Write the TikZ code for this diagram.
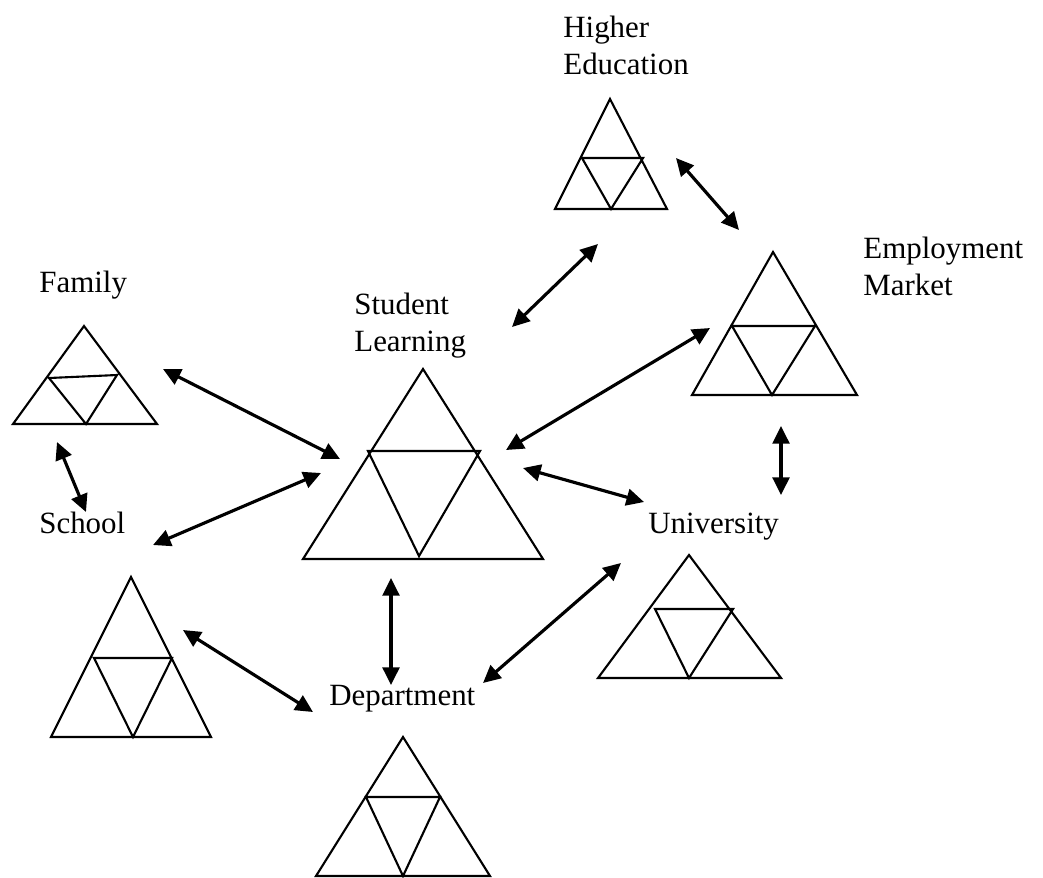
\documentclass[tikz,border=0pt]{standalone}
\usepackage{fontspec}
\setmainfont{Liberation Serif}
\usetikzlibrary{arrows.meta}

\tikzset{
	tri/.style={line width=1.2pt, line join=miter},
	lbl/.style={anchor=base west, inner sep=0pt, align=left, font=\fontsize{17.6}{21}\selectfont},
	link/.style={line width=1.8pt, {Triangle[length=10pt,width=9.5pt]}-{Triangle[length=10pt,width=9.5pt]}}
}

\begin{document}
\begin{tikzpicture}[x=0.02cm,y=-0.02cm]
	\useasboundingbox (0,0) rectangle (1043,877);

	% triangles
	\draw[tri] (610,99) -- (667,209) -- (555,209) -- cycle (582,158) -- (643,158) -- (611,209) -- cycle;
	\draw[tri] (773,252) -- (857,395) -- (692,395) -- cycle (732,326) -- (815,326) -- (772,395) -- cycle;
	\draw[tri] (84,326) -- (157,424) -- (13,424) -- cycle (49,378) -- (117,375) -- (86,424) -- cycle;
	\draw[tri] (423,369) -- (543,559) -- (303,559) -- cycle (368,451) -- (480,451) -- (419,556) -- cycle;
	\draw[tri] (131,577) -- (211,737) -- (51,737) -- cycle (94,658) -- (172,658) -- (133,737) -- cycle;
	\draw[tri] (689,555) -- (781,678) -- (598,678) -- cycle (655,609) -- (733,609) -- (689,678) -- cycle;
	\draw[tri] (403,737) -- (490,876) -- (316,876) -- cycle (366,797) -- (440,797) -- (403,876) -- cycle;

	% labels (two-line ones sit on their last line)
	\node[lbl] (higher) at (563,74) {Higher\\Education};
	\node[lbl] (employ) at (863,295) {Employment\\Market};
	\node[lbl] (family) at (39,292) {Family};
	\node[lbl] (student) at (354,351) {Student\\Learning};
	\node[lbl] (school) at (39,533) {School};
	\node[lbl] (univ) at (648,533) {University};
	\node[lbl] (dept) at (329,705) {Department};

	% arrow ends
	\coordinate (fam-st) at (163,369);  \coordinate (st-fam) at (340,459);
	\coordinate (fam-sc) at (57,442);   \coordinate (sc-fam) at (86,512);
	\coordinate (sc-st) at (153,545);   \coordinate (st-sc) at (321,473);
	\coordinate (st-he) at (512,327);   \coordinate (he-st) at (598,244);
	\coordinate (he-em) at (676,158);   \coordinate (em-he) at (739,230);
	\coordinate (st-em) at (506,450);   \coordinate (em-st) at (710,328);
	\coordinate (st-un) at (523,468);   \coordinate (un-st) at (644,502);
	\coordinate (em-un) at (781,426);   \coordinate (un-em) at (781,495);
	\coordinate (st-de) at (391,578);   \coordinate (de-st) at (391,685);
	\coordinate (sc-de) at (183,630);   \coordinate (de-sc) at (313,712);
	\coordinate (un-de) at (621,563);   \coordinate (de-un) at (483,683);

	% arrows
	\draw[link] (fam-st) -- (st-fam);
	\draw[link] (fam-sc) -- (sc-fam);
	\draw[link] (sc-st) -- (st-sc);
	\draw[link] (st-he) -- (he-st);
	\draw[link] (he-em) -- (em-he);
	\draw[link] (st-em) -- (em-st);
	\draw[link] (st-un) -- (un-st);
	\draw[link] (em-un) -- (un-em);
	\draw[link] (st-de) -- (de-st);
	\draw[link] (sc-de) -- (de-sc);
	\draw[link] (un-de) -- (de-un);
\end{tikzpicture}
\end{document}
